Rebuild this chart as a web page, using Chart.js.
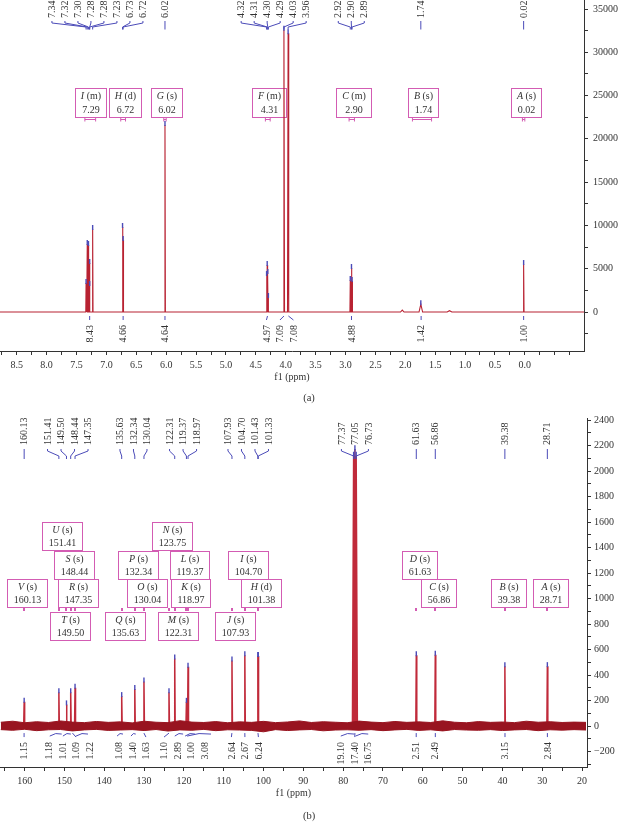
<!DOCTYPE html>
<html><head><meta charset="utf-8">
<script src="https://cdn.jsdelivr.net/npm/chart.js@4.4.1/dist/chart.umd.min.js"></script>
<style>
html,body{margin:0;padding:0;background:#fff;}
#wrap{position:relative;width:619px;height:822px;overflow:hidden;background:#fff;}
canvas{position:absolute;left:0;}
#cA{top:0;} #cB{top:405px;}
</style></head><body>
<div id="wrap"><canvas id="cA" width="619" height="405"></canvas><canvas id="cB" width="619" height="417"></canvas></div>
<script>
// ===================== DATA (a) 1H NMR =====================
const hPeakShift  = [7.34, 7.32, 7.30, 7.28, 7.28, 7.23, 6.73, 6.72, 6.02, 4.32, 4.31, 4.30, 4.29, 4.03, 3.96, 2.92, 2.90, 2.89, 1.74, 0.02];
const hPeakHeight = [3350, 7850, 7740, 5660, 3120, 9590, 9820, 8320, 21600, 4270, 5430, 4500, 1730, 32600, 32200, 3700, 5080, 3580, 900, 5540];
const hPeakHalfWidth = [0.005, 0.005, 0.005, 0.005, 0.005, 0.006, 0.006, 0.006, 0.007, 0.005, 0.005, 0.005, 0.005, 0.01, 0.01, 0.006, 0.006, 0.006, 0.03, 0.007];
const hMinorShift = [2.05, 1.26];
const hMinorHeight = [230, 150];
const hMinorHalfWidth = [0.03, 0.04];
const hMultLetter = ['I', 'H', 'G', 'F', 'C', 'B', 'A'];
const hMultType   = ['m', 'd', 's', 'm', 'm', 's', 's'];
const hMultShift  = [7.29, 6.72, 6.02, 4.31, 2.90, 1.74, 0.02];
const hMultFrom   = [7.36, 6.76, 6.04, 4.34, 2.94, 1.88, 0.04];
const hMultTo     = [7.18, 6.68, 6.00, 4.26, 2.85, 1.56, 0.00];
const hIntValue = [8.43, 4.66, 4.64, 4.97, 7.09, 7.08, 4.88, 1.42, 1.00];
const hIntFrom  = [7.36, 6.76, 6.05, 4.34, 4.06, 3.99, 2.95, 1.85, 0.05];
const hIntTo    = [7.20, 6.68, 5.99, 4.27, 4.00, 3.92, 2.85, 1.62, -0.01];
const hXRange = [-0.99, 8.78];
const hYRange = [-4505, 36040];

// ===================== DATA (b) 13C NMR =====================
const cPeakShift  = [160.13, 151.41, 149.50, 148.44, 147.35, 135.63, 132.34, 130.04, 123.75, 122.31, 119.37, 118.97, 107.93, 104.70, 101.43, 101.33, 77.37, 77.05, 76.73, 61.63, 56.86, 39.38, 28.71];
const cPeakHeight = [190, 265, 170, 265, 300, 235, 290, 350, 265, 530, 190, 465, 515, 555, 550, 550, 2120, 2170, 2120, 555, 560, 470, 470];
const cPeakHalfWidth = [0.12, 0.12, 0.12, 0.12, 0.12, 0.12, 0.12, 0.12, 0.12, 0.12, 0.12, 0.12, 0.12, 0.12, 0.08, 0.08, 0.3, 0.3, 0.3, 0.12, 0.12, 0.12, 0.12];
const cLabelShift = [160.13, 151.41, 149.50, 148.44, 147.35, 135.63, 132.34, 130.04, 122.31, 119.37, 118.97, 107.93, 104.70, 101.43, 101.33, 77.37, 77.05, 76.73, 61.63, 56.86, 39.38, 28.71];
const cMultLetter = ['A', 'B', 'C', 'D', 'H', 'I', 'J', 'K', 'L', 'M', 'N', 'O', 'P', 'Q', 'R', 'S', 'T', 'U', 'V'];
const cMultType   = ['s', 's', 's', 's', 'd', 's', 's', 's', 's', 's', 's', 's', 's', 's', 's', 's', 's', 's', 's'];
const cMultShift  = [28.71, 39.38, 56.86, 61.63, 101.38, 104.70, 107.93, 118.97, 119.37, 122.31, 123.75, 130.04, 132.34, 135.63, 147.35, 148.44, 149.50, 151.41, 160.13];
const cIntValue = [1.15, 1.18, 1.01, 1.09, 1.22, 1.08, 1.40, 1.63, 1.10, 2.89, 1.00, 3.08, 2.64, 2.67, 6.24, 19.10, 17.40, 16.75, 2.51, 2.49, 3.15, 2.84];
const cIntFrom  = [160.4, 153.7, 150.4, 148.4, 147.1, 136.8, 133.3, 130.3, 124.0, 122.3, 119.7, 119.2, 108.2, 105.0, 101.7, 80.6, 77.2, 76.9, 61.9, 57.1, 39.6, 29.0];
const cIntTo    = [159.9, 150.7, 148.4, 147.6, 144.1, 135.3, 132.1, 129.8, 123.5, 120.2, 117.2, 113.2, 107.7, 104.4, 101.1, 77.2, 76.9, 73.7, 61.4, 56.6, 39.1, 28.4];
const cNoisePpm = [166, 163, 160, 157, 154, 151, 148, 145, 142, 139, 136, 133, 130, 127, 124, 121, 118, 115, 112, 109, 106, 103, 100, 97, 94, 91, 88, 85, 82, 79, 76, 73, 70, 67, 64, 61, 58, 55, 52, 49, 46, 43, 40, 37, 34, 31, 28, 25, 22, 19];
const cNoiseHi  = [30, 38, 26, 34, 28, 40, 31, 27, 36, 29, 33, 25, 38, 30, 27, 42, 31, 28, 35, 26, 33, 29, 37, 27, 32, 40, 28, 34, 30, 26, 39, 31, 27, 36, 29, 33, 28, 41, 30, 26, 35, 29, 32, 27, 38, 30, 34, 28, 31, 29];
const cNoiseLo  = [-28, -33, -25, -36, -29, -27, -38, -30, -26, -34, -31, -28, -35, -27, -39, -30, -33, -26, -36, -29, -31, -34, -45, -28, -35, -30, -27, -37, -31, -29, -33, -28, -36, -30, -26, -34, -29, -38, -27, -31, -33, -28, -35, -30, -27, -36, -29, -32, -28, -31];
const cXRange = [18.75, 166.2];
const cYRange = [-321, 2416];

// ===================== STYLE =====================
const FONT = '"Liberation Serif", "Times New Roman", serif';
const BLUE = '#4b4bb8', PINK = '#d35cb3', INK = '#333333';
Chart.defaults.font.family = FONT;
Chart.defaults.font.size = 10;
Chart.defaults.color = INK;

function buildSpectrum(shifts, heights, hws, from, to) {
  const idx = shifts.map((_, i) => i).sort((a, b) => shifts[b] - shifts[a]);
  const pts = [];
  if (from !== null) pts.push({x: from, y: 0});
  idx.forEach(i => {
    pts.push({x: shifts[i] + hws[i], y: 0}, {x: shifts[i], y: heights[i]}, {x: shifts[i] - hws[i], y: 0});
  });
  if (to !== null) pts.push({x: to, y: 0});
  return pts;
}

function spread(pxs, gap) {
  let groups = pxs.map(p => ({n: 1, sum: p}));
  let merged = true;
  while (merged) {
    merged = false;
    for (let i = 0; i < groups.length - 1; i++) {
      const a = groups[i], b = groups[i + 1];
      const aEnd = a.sum / a.n + (a.n - 1) * gap / 2;
      const bStart = b.sum / b.n - (b.n - 1) * gap / 2;
      if (bStart - aEnd < gap - 0.01) {
        groups.splice(i, 2, {n: a.n + b.n, sum: a.sum + b.sum});
        merged = true; break;
      }
    }
  }
  const out = [];
  groups.forEach(g => { const s = g.sum / g.n - (g.n - 1) * gap / 2; for (let k = 0; k < g.n; k++) out.push(s + k * gap); });
  return out;
}

function line(ctx, pts) {
  ctx.beginPath(); ctx.moveTo(pts[0][0], pts[0][1]);
  for (let i = 1; i < pts.length; i++) ctx.lineTo(pts[i][0], pts[i][1]);
  ctx.stroke();
}

function drawPeakLabels(ctx, xs, shifts, gap, textBottom, c) {
  const px = shifts.map(s => xs.getPixelForValue(s));
  const order = px.map((_, i) => i).sort((a, b) => px[a] - px[b]);
  const pos = spread(order.map(i => px[i]), gap);
  ctx.save();
  ctx.font = '10px ' + FONT; ctx.fillStyle = INK;
  ctx.strokeStyle = BLUE; ctx.lineWidth = 1;
  order.forEach((i, k) => {
    const lx = pos[k], p = px[i];
    ctx.save(); ctx.translate(lx, textBottom); ctx.rotate(-Math.PI / 2);
    ctx.textAlign = 'left'; ctx.textBaseline = 'middle';
    ctx.fillText(shifts[i].toFixed(2), 0, 0.5); ctx.restore();
    line(ctx, [[lx, c[0]], [lx, c[1]], [p, c[2]], [p, c[3]]]);
  });
  ctx.restore();
}

function drawMarkers(ctx, xs, ys, shifts, heights) {
  ctx.save(); ctx.strokeStyle = BLUE; ctx.lineWidth = 1.4;
  shifts.forEach((s, i) => {
    const x = xs.getPixelForValue(s), y = ys.getPixelForValue(heights[i]);
    line(ctx, [[x, y + 1], [x, y - 4]]);
  });
  ctx.restore();
}

function drawIntegrals(ctx, xs, ys, values, from, to, cfg) {
  const zero = ys.getPixelForValue(0);
  const fp = from.map(v => xs.getPixelForValue(v)), tp = to.map(v => xs.getPixelForValue(v));
  const cp = fp.map((f, i) => (f + tp[i]) / 2);
  const order = cp.map((_, i) => i).sort((a, b) => cp[a] - cp[b]);
  const pos = spread(order.map(i => cp[i]), cfg.gap);
  ctx.save();
  ctx.strokeStyle = BLUE; ctx.lineWidth = 1; ctx.fillStyle = INK; ctx.font = '10px ' + FONT;
  order.forEach((i, k) => {
    const lx = pos[k], y0 = zero + cfg.tickTop;
    if (cfg.brackets && Math.abs(tp[i] - fp[i]) > 4) {
      ctx.beginPath(); ctx.moveTo(fp[i], y0 + 3);
      ctx.quadraticCurveTo((fp[i] + tp[i]) / 2, y0 - 1, tp[i], y0 + 1); ctx.stroke();
    } else {
      line(ctx, [[cp[i], y0], [lx, y0 + 4]]);
    }
    ctx.save(); ctx.translate(lx, zero + cfg.textTop); ctx.rotate(-Math.PI / 2);
    ctx.textAlign = 'right'; ctx.textBaseline = 'middle';
    ctx.fillText(values[i].toFixed(2), 0, 0.5); ctx.restore();
  });
  ctx.restore();
}

function boxSize(ctx, letter, type, value, padX) {
  ctx.font = 'italic 10px ' + FONT; const wL = ctx.measureText(letter).width;
  ctx.font = '10px ' + FONT; const wR = ctx.measureText(' (' + type + ')').width;
  const wV = ctx.measureText(value).width;
  return {wL, wR, wV, w: Math.max(wL + wR, wV) + 2 * padX};
}

function drawBox(ctx, cx, bottom, h, letter, type, value, sz) {
  const left = Math.round(cx - sz.w / 2) + 0.5, top = Math.round(bottom - h) + 0.5;
  ctx.fillStyle = '#fff'; ctx.fillRect(left, top, Math.round(sz.w), Math.round(h));
  ctx.strokeStyle = PINK; ctx.lineWidth = 1; ctx.strokeRect(left, top, Math.round(sz.w), Math.round(h));
  const mid = left + Math.round(sz.w) / 2;
  const tot = sz.wL + sz.wR;
  ctx.fillStyle = INK; ctx.textBaseline = 'middle'; ctx.textAlign = 'left';
  ctx.font = 'italic 10px ' + FONT; ctx.fillText(letter, mid - tot / 2, top + h * 0.27);
  ctx.font = '10px ' + FONT; ctx.fillText(' (' + type + ')', mid - tot / 2 + sz.wL, top + h * 0.27);
  ctx.textAlign = 'center'; ctx.fillText(value, mid, top + h * 0.74);
}

// ticks placed at exact multiples of the step inside the axis range
function stepTicks(range, step) {
  return s => {
    const t = [];
    const k0 = Math.ceil(range[0] / step - 1e-9), k1 = Math.floor(range[1] / step + 1e-9);
    for (let k = k0; k <= k1; k++) t.push({value: Math.round(k * step * 1e6) / 1e6});
    s.ticks = t;
  };
}

function axisX(range, step, labelStep, fmt, tickPad, titlePad, height) {
  return {
    type: 'linear', position: 'bottom', reverse: true, min: range[0], max: range[1],
    afterBuildTicks: stepTicks(range, step),
    ticks: {autoSkip: false, maxRotation: 0, minRotation: 0, padding: tickPad, color: INK, font: {size: 10},
      callback: v => { const q = v / labelStep; return (Math.abs(q - Math.round(q)) < 1e-6 && v > -1e-9) ? fmt(v) : ''; }},
    grid: {display: true, drawOnChartArea: false, drawTicks: true, tickLength: 4, color: INK, lineWidth: 1},
    border: {display: true, color: INK, width: 1},
    title: {display: true, text: 'f1 (ppm)', color: INK, font: {size: 10}, padding: {top: 0, bottom: titlePad}},
    afterFit: s => { s.height = height; s.paddingLeft = 0; s.paddingRight = 0; }
  };
}
function axisY(range, step, labelStep, tickPad, width) {
  return {
    type: 'linear', position: 'right', min: range[0], max: range[1],
    afterBuildTicks: stepTicks(range, step),
    ticks: {autoSkip: false, padding: tickPad, color: INK, font: {size: 10},
      callback: v => { const q = v / labelStep; if (Math.abs(q - Math.round(q)) > 1e-6) return ''; return v < 0 ? '\u2212' + Math.abs(v) : String(v); }},
    grid: {display: true, drawOnChartArea: false, drawTicks: true, tickLength: 4, color: INK, lineWidth: 1},
    border: {display: true, color: INK, width: 1},
    afterFit: s => { s.width = width; s.paddingTop = 0; s.paddingBottom = 0; }
  };
}

// ===================== CHART (a) =====================
const specA = buildSpectrum(hPeakShift.concat(hMinorShift), hPeakHeight.concat(hMinorHeight), hPeakHalfWidth.concat(hMinorHalfWidth), hXRange[1], hXRange[0]);
const annotA = {
  id: 'annotA',
  beforeDatasetsDraw(chart) {
    const ctx = chart.ctx, xs = chart.scales.x;
    ctx.save();
    hMultShift.forEach((s, i) => {
      const val = s.toFixed(2);
      const sz = boxSize(ctx, hMultLetter[i], hMultType[i], val, 5.5);
      drawBox(ctx, xs.getPixelForValue(s) + 2, 117, 29, hMultLetter[i], hMultType[i], val, sz);
      const a = xs.getPixelForValue(hMultFrom[i]), b = xs.getPixelForValue(hMultTo[i]);
      ctx.strokeStyle = PINK; ctx.lineWidth = 1;
      line(ctx, [[a, 119.5], [b, 119.5]]);
      line(ctx, [[a, 118], [a, 121.5]]); line(ctx, [[b, 118], [b, 121.5]]);
    });
    ctx.restore();
  },
  afterDatasetsDraw(chart) {
    const ctx = chart.ctx, xs = chart.scales.x, ys = chart.scales.y;
    drawMarkers(ctx, xs, ys, hPeakShift, hPeakHeight);
    drawPeakLabels(ctx, xs, hPeakShift, 13, 18, [21, 23, 27, 29.5]);
    drawIntegrals(ctx, xs, ys, hIntValue, hIntFrom, hIntTo, {gap: 13.5, tickTop: 4, textTop: 13, brackets: false});
    ctx.save(); ctx.font = '10.5px ' + FONT; ctx.fillStyle = INK; ctx.textAlign = 'center'; ctx.textBaseline = 'middle';
    ctx.fillText('(a)', 309, 398); ctx.restore();
  }
};
new Chart(document.getElementById('cA'), {
  type: 'line',
  data: {datasets: [{data: specA, borderColor: '#b82232', borderWidth: 1.1, pointRadius: 0, fill: false, tension: 0}]},
  options: {
    responsive: false, animation: false, devicePixelRatio: 1, events: [],
    layout: {padding: {top: 0, left: 0, right: 0, bottom: 0}},
    plugins: {legend: {display: false}, tooltip: {enabled: false}},
    scales: {x: axisX(hXRange, 0.25, 0.5, v => v.toFixed(1), 4, 22, 54), y: axisY(hYRange, 2500, 5000, 5, 35)}
  },
  plugins: [annotA]
});

// ===================== CHART (b) =====================
const specB = buildSpectrum(cPeakShift, cPeakHeight, cPeakHalfWidth, null, null);
const noiseHi = cNoisePpm.map((x, i) => ({x, y: cNoiseHi[i]}));
const noiseLo = cNoisePpm.map((x, i) => ({x, y: cNoiseLo[i]}));
const rowBottoms = [202, 173.5, 234.5, 145, 116.5];
const annotB = {
  id: 'annotB',
  beforeDatasetsDraw(chart) {
    const ctx = chart.ctx, xs = chart.scales.x;
    ctx.save();
    const placed = rowBottoms.map(() => []);
    cMultShift.forEach((s, i) => {
      const val = s.toFixed(2);
      const sz = boxSize(ctx, cMultLetter[i], cMultType[i], val, 6);
      const cx = xs.getPixelForValue(s) + 3;
      const L = cx - sz.w / 2, R = cx + sz.w / 2;
      let r = 0;
      for (; r < rowBottoms.length; r++) {
        if (!placed[r].some(b => L < b[1] + 1 && b[0] < R + 1)) break;
      }
      placed[r].push([L, R]);
      drawBox(ctx, cx, rowBottoms[r], 28, cMultLetter[i], cMultType[i], val, sz);
      ctx.fillStyle = PINK;
      ctx.fillRect(Math.round(xs.getPixelForValue(s)) - 1, 203, 2, 3);
    });
    ctx.restore();
  },
  afterDatasetsDraw(chart) {
    const ctx = chart.ctx, xs = chart.scales.x, ys = chart.scales.y;
    drawMarkers(ctx, xs, ys, cPeakShift, cPeakHeight);
    drawPeakLabels(ctx, xs, cLabelShift, 13.5, 40, [44, 46, 51, 54]);
    drawIntegrals(ctx, xs, ys, cIntValue, cIntFrom, cIntTo, {gap: 13.5, tickTop: 7, textTop: 16, brackets: true});
    ctx.save(); ctx.font = '10.5px ' + FONT; ctx.fillStyle = INK; ctx.textAlign = 'center'; ctx.textBaseline = 'middle';
    ctx.fillText('(b)', 309, 411); ctx.restore();
  }
};
new Chart(document.getElementById('cB'), {
  type: 'line',
  data: {datasets: [
    {data: noiseHi, borderColor: '#981420', backgroundColor: '#981420', borderWidth: 1, pointRadius: 0, fill: '+1', tension: 0},
    {data: noiseLo, borderColor: '#981420', borderWidth: 1, pointRadius: 0, fill: false, tension: 0},
    {data: specB, borderColor: '#c02a3a', borderWidth: 1.5, pointRadius: 0, fill: false, tension: 0}
  ]},
  options: {
    responsive: false, animation: false, devicePixelRatio: 1, events: [],
    layout: {padding: {top: 13, left: 0, right: 0, bottom: 0}},
    plugins: {legend: {display: false}, tooltip: {enabled: false}},
    scales: {x: axisX(cXRange, 5, 10, v => String(Math.round(v)), 4, 23, 55), y: axisY(cYRange, 100, 200, 3, 32)}
  },
  plugins: [annotB]
});
</script>
</body></html>
